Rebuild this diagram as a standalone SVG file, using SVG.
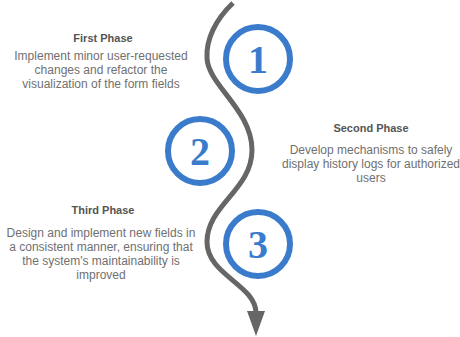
<svg xmlns="http://www.w3.org/2000/svg" width="460" height="337" viewBox="0 0 460 337">
  <style>
    .title { font-family: "Liberation Sans", Arial, sans-serif; font-size: 11px; font-weight: bold; fill: #555555; text-anchor: middle; }
    .body { font-family: "Liberation Sans", Arial, sans-serif; font-size: 12px; fill: #707070; text-anchor: middle; }
    .ring { fill: none; stroke: #3b7bcc; stroke-width: 6; }
    .num { font-family: "Liberation Serif", "Times New Roman", serif; font-size: 40px; font-weight: bold; fill: #3b7bcc; text-anchor: middle; }
    .path { fill: none; stroke: #666666; stroke-width: 5; stroke-linecap: butt; }
    .head { fill: #666666; }
  </style>
  <rect width="460" height="337" fill="#ffffff"/>

  <!-- winding timeline path with arrow -->
  <g id="connectors">
    <path class="path" d="M 233 3 C 215 20, 206 40, 207 58 C 208 85, 252 110, 252 150 C 252 190, 207 205, 207 242 C 207 275, 256 285, 256 313"/>
    <polygon class="head" points="247,311 265,311 256,336"/>
  </g>

  <!-- phase 1 -->
  <g id="phase1-marker">
    <circle class="ring" cx="258" cy="59" r="32"/>
    <text class="num" x="258" y="73">1</text>
  </g>
  <g id="phase1-text">
    <text class="title" x="103" y="42">First Phase</text>
    <text class="body" x="101" y="60">Implement minor user-requested</text>
    <text class="body" x="101" y="74">changes and refactor the</text>
    <text class="body" x="101" y="88">visualization of the form fields</text>
  </g>

  <!-- phase 2 -->
  <g id="phase2-marker">
    <circle class="ring" cx="200" cy="151" r="32"/>
    <text class="num" x="200" y="165">2</text>
  </g>
  <g id="phase2-text">
    <text class="title" x="371" y="132">Second Phase</text>
    <text class="body" x="371" y="154">Develop mechanisms to safely</text>
    <text class="body" x="371" y="168">display history logs for authorized</text>
    <text class="body" x="371" y="182">users</text>
  </g>

  <!-- phase 3 -->
  <g id="phase3-marker">
    <circle class="ring" cx="258" cy="244" r="32"/>
    <text class="num" x="258" y="258">3</text>
  </g>
  <g id="phase3-text">
    <text class="title" x="103" y="214">Third Phase</text>
    <text class="body" x="101" y="237">Design and implement new fields in</text>
    <text class="body" x="101" y="251">a consistent manner, ensuring that</text>
    <text class="body" x="101" y="265">the system's maintainability is</text>
    <text class="body" x="101" y="279">improved</text>
  </g>
</svg>
